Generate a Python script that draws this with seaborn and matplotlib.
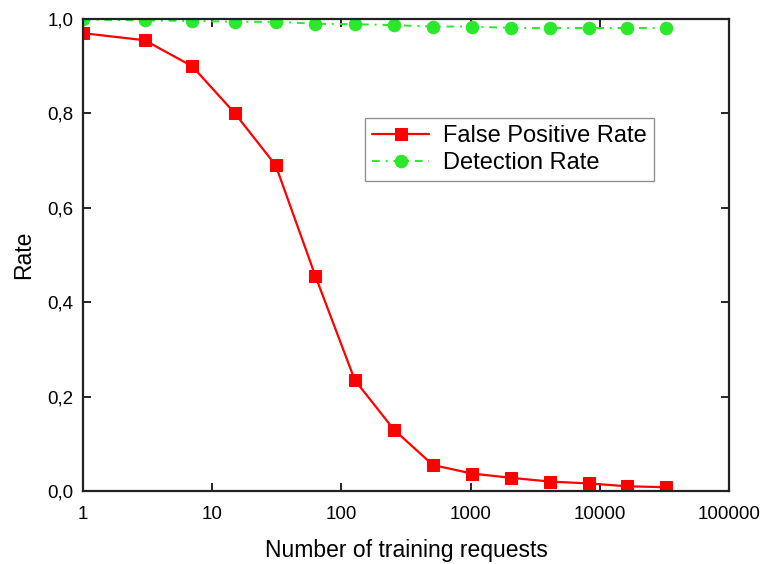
import matplotlib
matplotlib.use("Agg")
import matplotlib.pyplot as plt
import seaborn as sns
import pandas as pd
from matplotlib.ticker import FixedLocator, FixedFormatter, NullLocator

# Data
requests = [1, 3, 7, 15, 31, 63, 127, 255, 511, 1023, 2047, 4095, 8191, 16383, 32767]
false_positive_rate = [0.970, 0.955, 0.900, 0.800, 0.690, 0.455, 0.235, 0.130, 0.055,
                       0.037, 0.028, 0.020, 0.016, 0.010, 0.008]
detection_rate = [0.999, 0.997, 0.996, 0.994, 0.994, 0.990, 0.989, 0.987, 0.984,
                  0.984, 0.981, 0.981, 0.981, 0.981, 0.981]
x_ticks = [1, 10, 100, 1000, 10000, 100000]
x_tick_labels = ["1", "10", "100", "1000", "10000", "100000"]
y_ticks = [0.0, 0.2, 0.4, 0.6, 0.8, 1.0]
y_tick_labels = ["0,0", "0,2", "0,4", "0,6", "0,8", "1,0"]

sns.set_style("ticks")
plt.rcParams["font.family"] = ["Liberation Sans", "DejaVu Sans"]
plt.rcParams["text.color"] = "black"
plt.rcParams["axes.labelcolor"] = "black"

df_fpr = pd.DataFrame({"x": requests, "y": false_positive_rate})
df_det = pd.DataFrame({"x": requests, "y": detection_rate})

fig = plt.figure(figsize=(7.64, 5.64), dpi=100)
ax = fig.add_axes([83 / 764, 1 - 491 / 564, 646 / 764, 472 / 564])

sns.lineplot(data=df_fpr, x="x", y="y", ax=ax, color="#ff0000", linewidth=1.6,
             marker="s", markersize=8, markeredgecolor="#ff0000",
             label="False Positive Rate")
sns.lineplot(data=df_det, x="x", y="y", ax=ax, color="#2ae82a", linewidth=1.4,
             linestyle=(0, (4, 3, 1, 3)), marker="o", markersize=9,
             markeredgecolor="#2ae82a", label="Detection Rate")

ax.set_xscale("log")
ax.set_xlim(1, 100000)
ax.set_ylim(0.0, 1.0)
ax.xaxis.set_major_locator(FixedLocator(x_ticks))
ax.xaxis.set_major_formatter(FixedFormatter(x_tick_labels))
ax.xaxis.set_minor_locator(NullLocator())
ax.yaxis.set_major_locator(FixedLocator(y_ticks))
ax.yaxis.set_major_formatter(FixedFormatter(y_tick_labels))

ax.tick_params(axis="both", which="major", direction="in", length=6, width=1.2,
               labelsize=13.5, colors="black", labelcolor="black", top=True, right=True)
ax.tick_params(axis="x", pad=10.5)
ax.tick_params(axis="y", pad=7)
for s in ax.spines.values():
    s.set_visible(True)
    s.set_linewidth(1.6)
    s.set_color("#222222")

ax.set_xlabel("Number of training requests", fontsize=16.5, labelpad=12)
ax.set_ylabel("Rate", fontsize=16.5, labelpad=9)

leg = ax.legend(loc="upper left", bbox_to_anchor=(0.437, 0.79), borderaxespad=0,
                fontsize=17, frameon=True, fancybox=False, edgecolor="#777777",
                handlelength=2.4, handletextpad=0.6, borderpad=0.3, labelspacing=0.2)
leg.get_frame().set_linewidth(1.0)
for t in leg.get_texts():
    t.set_color("black")

fig.savefig("out.png", dpi=100)
